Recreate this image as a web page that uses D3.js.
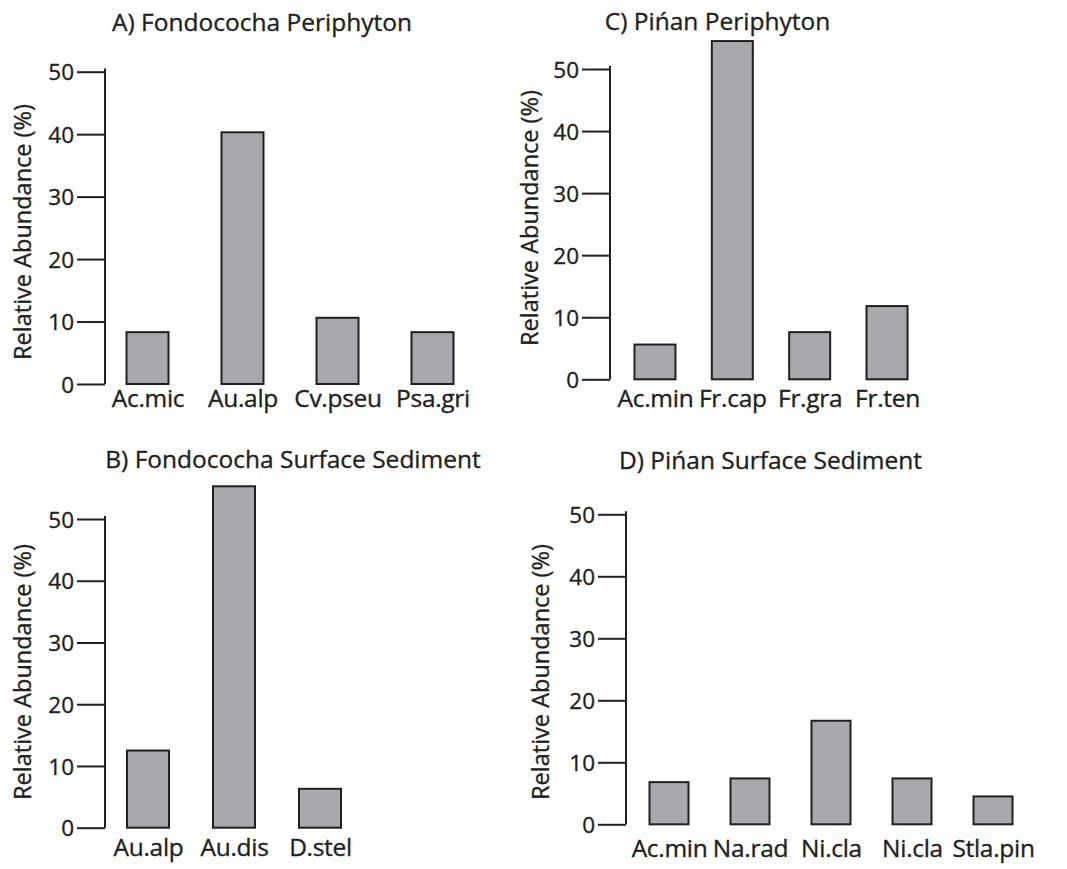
<!DOCTYPE html>
<html>
<head>
<meta charset="utf-8">
<script src="https://cdn.jsdelivr.net/npm/d3@7/dist/d3.min.js"></script>
<style>
body { margin: 0; background: #fff; }
text { font-family: "Open Sans", sans-serif; fill: #231f20; stroke: #231f20; stroke-width: 0.35px; }
</style>
</head>
<body>
<svg id="chart" width="1067" height="869"></svg>
<script>
// tick values shared by all four panels
const yTicks = [0, 10, 20, 30, 40, 50];

// A) Fondococha periphyton
const taxaA = ["Ac.mic", "Au.alp", "Cv.pseu", "Psa.gri"];
const abundA = [8.3, 40.3, 10.6, 8.3];

// B) Fondococha surface sediment
const taxaB = ["Au.alp", "Au.dis", "D.stel"];
const abundB = [12.5, 55.3, 6.3];

// C) Pinan periphyton
const taxaC = ["Ac.min", "Fr.cap", "Fr.gra", "Fr.ten"];
const abundC = [5.6, 54.5, 7.6, 11.8];

// D) Pinan surface sediment
const taxaD = ["Ac.min", "Na.rad", "Ni.cla", "Ni.cla", "Stla.pin"];
const abundD = [6.8, 7.4, 16.7, 7.4, 4.5];

const titles = ["A) Fondococha Periphyton", "B) Fondococha Surface Sediment",
                "C) Pińan Periphyton", "D) Pińan Surface Sediment"];
const yTitle = "Relative Abundance (%)";

const svg = d3.select("#chart");
const ink = "#231f20";
const barFill = "#a7a9ac";

function drawPanel(p) {
    const g = svg.append("g");

    const y = d3.scaleLinear().domain([0, 50]).range([p.y0, p.y50]);
    const x = d3.scalePoint()
        .domain(d3.range(p.taxa.length))   // index domain, Ni.cla appears twice
        .range(p.xRange)
        .padding(0.5);

    // y axis, ticks pointing left, line runs a bit past 50
    const yAxis = g.append("g")
        .attr("transform", `translate(${p.axisX},0)`)
        .call(d3.axisLeft(y).tickValues(yTicks).tickSize(28).tickSizeOuter(0).tickPadding(3));
    yAxis.attr("font-family", null).attr("font-size", null).attr("color", ink);
    yAxis.select(".domain").attr("d", `M0,${y(50.5)}V${y(0)}`).attr("stroke-width", 2);
    yAxis.selectAll(".tick line").attr("stroke-width", 2);
    yAxis.selectAll(".tick text").style("font-size", "22.5px").attr("dy", "0.36em");

    // bars
    g.selectAll("rect")
        .data(p.values)
        .enter().append("rect")
        .attr("x", (d, i) => x(i) - p.barW / 2)
        .attr("y", d => y(d))
        .attr("width", p.barW)
        .attr("height", d => y(0) - y(d))
        .attr("fill", barFill)
        .attr("stroke", ink)
        .attr("stroke-width", 2);

    // category labels, no x axis line
    const xAxis = g.append("g")
        .attr("transform", `translate(0,${p.y0})`)
        .call(d3.axisBottom(x).tickSize(0).tickPadding(p.labelPad).tickFormat(i => p.taxa[i]));
    xAxis.attr("font-family", null).attr("font-size", null);
    xAxis.select(".domain").remove();
    xAxis.selectAll(".tick text").style("font-size", "24.5px").style("letter-spacing", "-0.3px");

    // panel title
    g.append("text")
        .attr("x", p.titleX)
        .attr("y", p.titleY)
        .attr("text-anchor", "middle")
        .style("font-size", "24.5px")
        .text(p.title);

    // y axis title
    g.append("text")
        .attr("transform", `translate(${p.yLabX},${p.yLabY}) rotate(-90)`)
        .attr("text-anchor", "middle")
        .style("font-size", "23.5px")
        .text(yTitle);
}

drawPanel({ taxa: taxaA, values: abundA, title: titles[0],
    axisX: 105, y0: 384, y50: 71.7, xRange: [100, 480], barW: 42, labelPad: 6,
    titleX: 262, titleY: 31, yLabX: 31, yLabY: 232 });

drawPanel({ taxa: taxaB, values: abundB, title: titles[1],
    axisX: 105, y0: 827.7, y50: 519, xRange: [105, 363], barW: 42, labelPad: 11,
    titleX: 293, titleY: 468, yLabX: 31, yLabY: 672 });

drawPanel({ taxa: taxaC, values: abundC, title: titles[2],
    axisX: 610, y0: 379.3, y50: 69, xRange: [616.3, 925.7], barW: 41, labelPad: 10,
    titleX: 717.5, titleY: 30, yLabX: 538, yLabY: 218 });

drawPanel({ taxa: taxaD, values: abundD, title: titles[3],
    axisX: 626, y0: 824.3, y50: 514.3, xRange: [628.5, 1033.5], barW: 39, labelPad: 15,
    titleX: 770.5, titleY: 469, yLabX: 549, yLabY: 672 });
</script>
</body>
</html>
